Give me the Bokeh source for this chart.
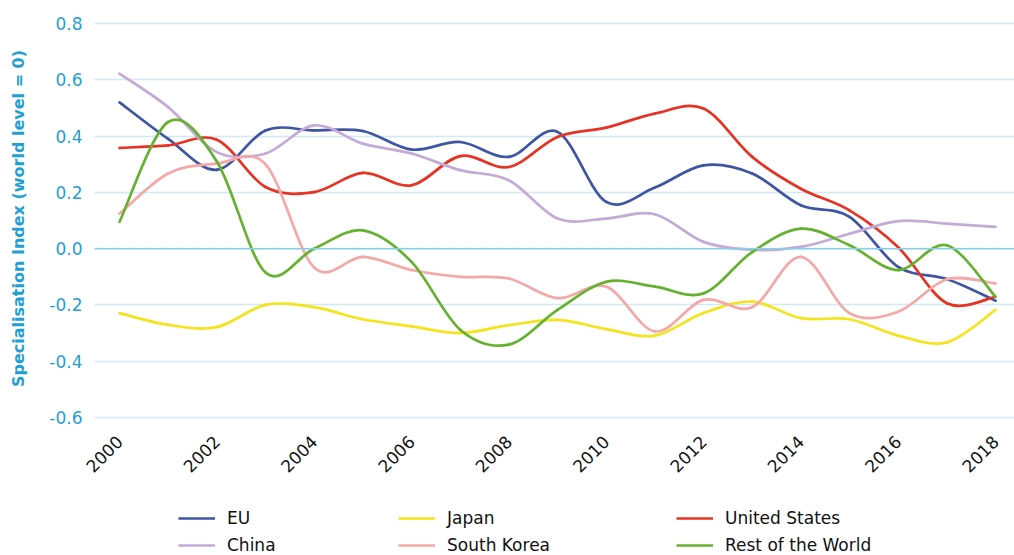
import numpy as np
from bokeh.plotting import figure
from bokeh.layouts import column
from bokeh.models import FixedTicker, Legend, LegendItem, Range1d, Span
from bokeh.embed import file_html
from bokeh.resources import INLINE

years = list(range(2000, 2019))
eu = [0.52, 0.39, 0.28, 0.42, 0.42, 0.418, 0.352, 0.379, 0.326, 0.415, 0.166, 0.217, 0.296, 0.267, 0.154, 0.113, -0.065, -0.108, -0.185]
japan = [-0.229, -0.271, -0.279, -0.2, -0.208, -0.251, -0.276, -0.300, -0.272, -0.253, -0.286, -0.309, -0.229, -0.188, -0.247, -0.251, -0.309, -0.333, -0.218]
united_states = [0.358, 0.367, 0.387, 0.219, 0.201, 0.269, 0.225, 0.329, 0.290, 0.397, 0.430, 0.48, 0.498, 0.326, 0.213, 0.136, 0.005, -0.194, -0.171]
china = [0.622, 0.503, 0.343, 0.338, 0.438, 0.373, 0.338, 0.279, 0.243, 0.107, 0.107, 0.122, 0.024, -0.004, 0.006, 0.053, 0.098, 0.089, 0.077]
south_korea = [0.124, 0.267, 0.302, 0.300, -0.067, -0.029, -0.076, -0.1, -0.106, -0.176, -0.135, -0.294, -0.182, -0.208, -0.029, -0.229, -0.224, -0.109, -0.124]
rest_of_world = [0.095, 0.45, 0.31, -0.085, 0.0, 0.065, -0.047, -0.288, -0.341, -0.218, -0.118, -0.135, -0.159, -0.012, 0.071, 0.012, -0.076, 0.012, -0.171]

series_names = ["EU", "Japan", "United States", "China", "South Korea", "Rest of the World"]
series_values = [eu, japan, united_states, china, south_korea, rest_of_world]
series_colors = ["#3d55a3", "#f3e41b", "#e63323", "#c4aad6", "#f4a8a8", "#64b22f"]

x_ticks = [2000, 2002, 2004, 2006, 2008, 2010, 2012, 2014, 2016, 2018]
x_tick_labels = ["2000", "2002", "2004", "2006", "2008", "2010", "2012", "2014", "2016", "2018"]
y_ticks = [-0.6, -0.4, -0.2, 0.0, 0.2, 0.4, 0.6, 0.8]
y_tick_labels = ["-0.6", "-0.4", "-0.2", "0.0", "0.2", "0.4", "0.6", "0.8"]
y_title = "Specialisation Index (world level = 0)"

FONT = "DejaVu Sans"
BLUE = "#1f9fd4"
LINE_W = 2.7

p = figure(width=1014, height=490, output_backend="svg", toolbar_location=None,
           x_range=Range1d(1999.4863, 2018.39), y_range=Range1d(-0.6107, 0.8249),
           min_border_left=94, min_border_right=0, min_border_top=16, min_border_bottom=70)
p.outline_line_color = None
p.xgrid.grid_line_color = None
p.ygrid.grid_line_color = "#cfeaf4"
p.ygrid.grid_line_width = 1.5
p.ygrid.ticker = FixedTicker(ticks=y_ticks)

p.add_layout(Span(location=0, dimension="width", line_color="#86d0e8", line_width=1.5))


def smooth_segments(xs, ys):
    xs = np.asarray(xs, dtype=float)
    ys = np.asarray(ys, dtype=float)
    n = len(xs)
    seg = {k: [] for k in ("x0", "y0", "x1", "y1", "cx0", "cy0", "cx1", "cy1")}
    for i in range(n - 1):
        ip = max(i - 1, 0)
        inx = min(i + 2, n - 1)
        seg["x0"].append(xs[i]); seg["y0"].append(ys[i])
        seg["x1"].append(xs[i + 1]); seg["y1"].append(ys[i + 1])
        seg["cx0"].append(xs[i] + (xs[i + 1] - xs[ip]) / 6)
        seg["cy0"].append(ys[i] + (ys[i + 1] - ys[ip]) / 6)
        seg["cx1"].append(xs[i + 1] - (xs[inx] - xs[i]) / 6)
        seg["cy1"].append(ys[i + 1] - (ys[inx] - ys[i]) / 6)
    return seg


for name, vals, col in zip(series_names, series_values, series_colors):
    s = smooth_segments(years, vals)
    p.bezier(line_color=col, line_width=LINE_W, line_cap="round", **s)

# x axis
p.xaxis.ticker = FixedTicker(ticks=x_ticks)
p.xaxis.major_label_overrides = {t: l for t, l in zip(x_ticks, x_tick_labels)}
p.xaxis.major_label_orientation = np.pi / 4
p.xaxis.axis_line_color = None
p.xaxis.major_tick_line_color = None
p.xaxis.minor_tick_line_color = None
p.xaxis.major_tick_out = 0
p.xaxis.major_tick_in = 0
p.xaxis.major_label_text_font = FONT
p.xaxis.major_label_text_font_size = "17px"
p.xaxis.major_label_text_color = "#111111"
p.xaxis.major_label_standoff = 18

# y axis
p.yaxis.ticker = FixedTicker(ticks=y_ticks)
p.yaxis.major_label_overrides = {t: l for t, l in zip(y_ticks, y_tick_labels)}
p.yaxis.axis_line_color = None
p.yaxis.major_tick_line_color = None
p.yaxis.minor_tick_line_color = None
p.yaxis.major_tick_out = 0
p.yaxis.major_tick_in = 0
p.yaxis.major_label_text_font = FONT
p.yaxis.major_label_text_font_size = "17px"
p.yaxis.major_label_text_color = BLUE
p.yaxis.major_label_standoff = 12
p.yaxis.axis_label = y_title
p.yaxis.axis_label_text_font = FONT
p.yaxis.axis_label_text_font_size = "16px"
p.yaxis.axis_label_text_font_style = "bold"
p.yaxis.axis_label_text_color = BLUE
p.yaxis.axis_label_standoff = 18

# legend strip below the chart (its frame is aligned with the chart's frame)
lg = figure(width=1014, height=65, output_backend="svg", toolbar_location=None,
            x_range=Range1d(0, 1), y_range=Range1d(0, 1),
            x_axis_location=None, y_axis_location=None,
            min_border_left=0, min_border_right=0, min_border_top=0, min_border_bottom=0)
lg.outline_line_color = None
lg.xgrid.grid_line_color = None
lg.ygrid.grid_line_color = None

items = []
for name, col in zip(series_names, series_colors):
    r = lg.line(x=[float("nan")], y=[float("nan")], line_color=col, line_width=LINE_W)
    items.append(LegendItem(label=name, renderers=[r]))

col_offsets = [84, 304, 582]
for c, off in enumerate(col_offsets):
    leg = Legend(items=[items[c], items[c + 3]], orientation="vertical",
                 glyph_width=37, glyph_height=20, label_standoff=12, spacing=7,
                 label_text_font=FONT, label_text_font_size="17px", label_text_color="#111111",
                 border_line_color=None, background_fill_alpha=0, padding=0, margin=0,
                 location=(off, 0))
    lg.add_layout(leg, "center")

layout = column(p, lg, spacing=0)
open("out.html", "w").write(file_html(layout, INLINE))
